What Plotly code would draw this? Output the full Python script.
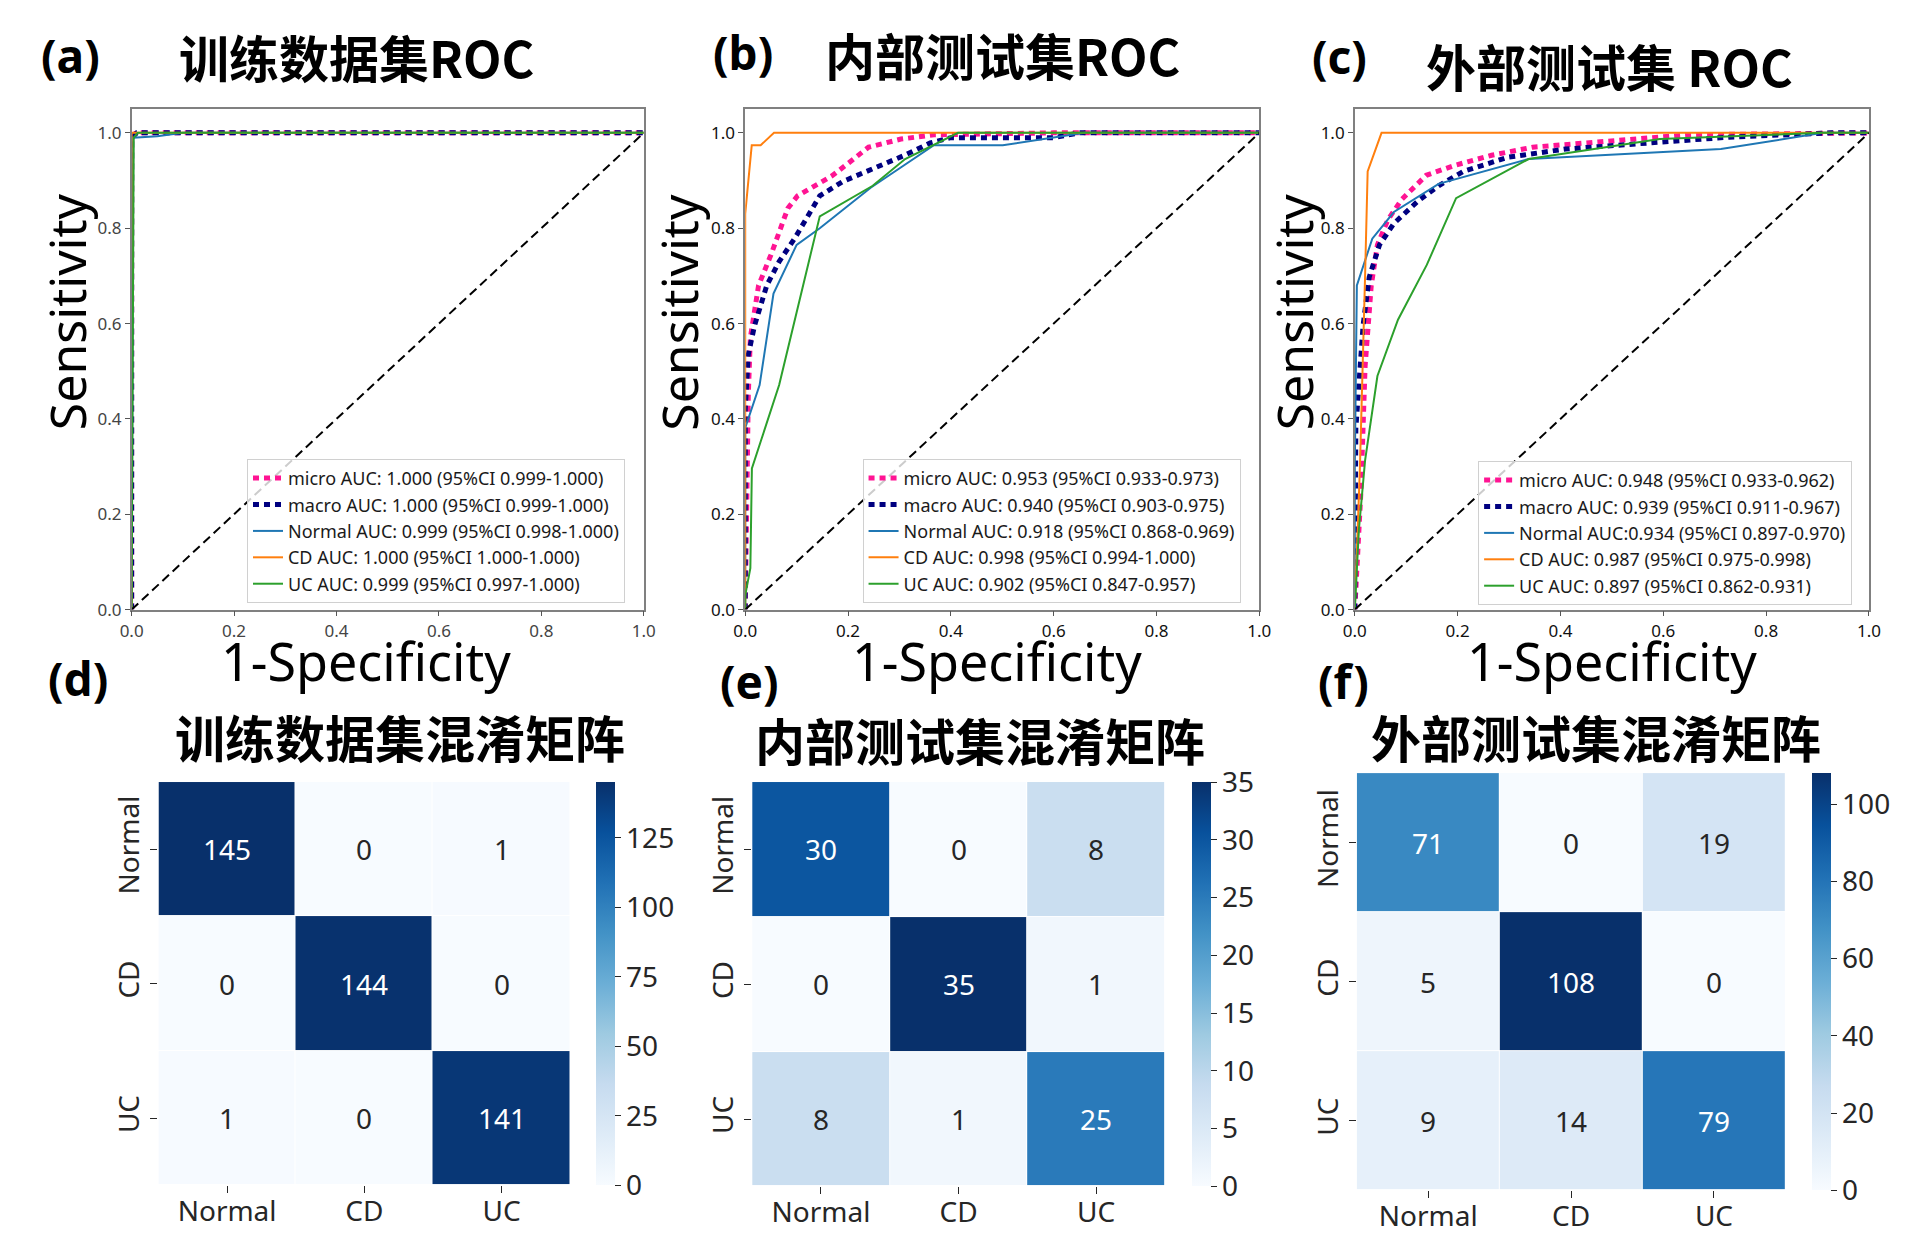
import plotly.graph_objects as go

W, H = 1924, 1246

# ---------------- ROC data ----------------
# (a) training set
TRAIN_MICRO_X = [0.0, 0.0, 0.01, 1.0]
TRAIN_MICRO_Y = [0.0, 0.995, 1.0, 1.0]
TRAIN_MACRO_X = [0.0, 0.0, 0.01, 1.0]
TRAIN_MACRO_Y = [0.0, 0.99, 1.0, 1.0]
TRAIN_NORMAL_X = [0.0, 0.003, 0.05, 0.1, 1.0]
TRAIN_NORMAL_Y = [0.0, 0.99, 0.993, 1.0, 1.0]
TRAIN_CD_X = [0.0, 0.0, 1.0]
TRAIN_CD_Y = [0.0, 1.0, 1.0]
TRAIN_UC_X = [0.0, 0.004, 0.012, 1.0]
TRAIN_UC_Y = [0.0, 0.99, 1.0, 1.0]

# (b) internal test set
INT_MICRO_X = [0.0, 0.002, 0.006, 0.01, 0.026, 0.05, 0.07, 0.083, 0.102, 0.137, 0.169, 0.2, 0.24, 0.303, 0.367, 0.6, 1.0]
INT_MICRO_Y = [0.0, 0.2, 0.45, 0.57, 0.68, 0.744, 0.80, 0.842, 0.868, 0.89, 0.91, 0.936, 0.97, 0.987, 0.996, 1.0, 1.0]
INT_MACRO_X = [0.0, 0.0, 0.006, 0.018, 0.042, 0.066, 0.097, 0.145, 0.19, 0.256, 0.31, 0.36, 0.4, 0.6, 0.65, 1.0]
INT_MACRO_Y = [0.0, 0.42, 0.535, 0.595, 0.68, 0.73, 0.78, 0.868, 0.898, 0.927, 0.953, 0.979, 0.99, 0.99, 1.0, 1.0]
INT_NORMAL_X = [0.0, 0.0, 0.028, 0.055, 0.1, 0.145, 0.244, 0.327, 0.367, 0.501, 0.66, 1.0]
INT_NORMAL_Y = [0.0, 0.381, 0.471, 0.663, 0.765, 0.80, 0.885, 0.945, 0.974, 0.974, 1.0, 1.0]
INT_CD_X = [0.0, 0.0, 0.0127, 0.03, 0.056, 1.0]
INT_CD_Y = [0.0, 0.83, 0.974, 0.974, 1.0, 1.0]
INT_UC_X = [0.0, 0.0, 0.01, 0.013, 0.066, 0.145, 0.248, 0.311, 0.414, 1.0]
INT_UC_Y = [0.0, 0.03, 0.087, 0.296, 0.471, 0.825, 0.889, 0.945, 1.0, 1.0]

# (c) external test set
EXT_MICRO_X = [0.0, 0.004, 0.012, 0.02, 0.032, 0.044, 0.064, 0.091, 0.139, 0.195, 0.266, 0.346, 0.489, 0.648, 1.0]
EXT_MICRO_Y = [0.0, 0.08, 0.25, 0.51, 0.68, 0.765, 0.817, 0.86, 0.911, 0.932, 0.953, 0.97, 0.983, 0.996, 1.0]
EXT_MACRO_X = [0.0, 0.0, 0.002, 0.016, 0.028, 0.048, 0.076, 0.123, 0.163, 0.211, 0.298, 0.41, 0.569, 0.728, 0.927, 1.0]
EXT_MACRO_Y = [0.0, 0.2, 0.38, 0.595, 0.697, 0.765, 0.81, 0.857, 0.889, 0.919, 0.949, 0.966, 0.979, 0.991, 1.0, 1.0]
EXT_NORMAL_X = [0.0, 0.0, 0.004, 0.034, 0.076, 0.163, 0.338, 0.712, 0.91, 1.0]
EXT_NORMAL_Y = [0.0, 0.3, 0.68, 0.778, 0.834, 0.893, 0.945, 0.966, 1.0, 1.0]
EXT_CD_X = [0.0, 0.01, 0.02, 0.025, 0.052, 1.0]
EXT_CD_Y = [0.0, 0.3, 0.7, 0.919, 1.0, 1.0]
EXT_UC_X = [0.0, 0.008, 0.02, 0.044, 0.084, 0.14, 0.197, 0.338, 0.593, 0.91, 1.0]
EXT_UC_Y = [0.0, 0.168, 0.313, 0.49, 0.608, 0.723, 0.863, 0.945, 0.987, 1.0, 1.0]

TRAIN_LABELS = ["micro AUC: 1.000 (95%CI 0.999-1.000)",
                "macro AUC: 1.000 (95%CI 0.999-1.000)",
                "Normal AUC: 0.999 (95%CI 0.998-1.000)",
                "CD AUC: 1.000 (95%CI 1.000-1.000)",
                "UC AUC: 0.999 (95%CI 0.997-1.000)"]
INT_LABELS = ["micro AUC: 0.953 (95%CI 0.933-0.973)",
              "macro AUC: 0.940 (95%CI 0.903-0.975)",
              "Normal AUC: 0.918 (95%CI 0.868-0.969)",
              "CD AUC: 0.998 (95%CI 0.994-1.000)",
              "UC AUC: 0.902 (95%CI 0.847-0.957)"]
EXT_LABELS = ["micro AUC: 0.948 (95%CI 0.933-0.962)",
              "macro AUC: 0.939 (95%CI 0.911-0.967)",
              "Normal AUC:0.934 (95%CI 0.897-0.970)",
              "CD AUC: 0.987 (95%CI 0.975-0.998)",
              "UC AUC: 0.897 (95%CI 0.862-0.931)"]

ROC_TITLES = ["训练数据集ROC", "内部测试集ROC", "外部测试集 ROC"]
CM_TITLES = ["训练数据集混淆矩阵", "内部测试集混淆矩阵", "外部测试集混淆矩阵"]
PANEL_TAGS = ["(a)", "(b)", "(c)", "(d)", "(e)", "(f)"]

# ---------------- confusion matrices ----------------
CLASSES = ["Normal", "CD", "UC"]
TRAIN_CM = [[145, 0, 1], [0, 144, 0], [1, 0, 141]]
INT_CM = [[30, 0, 8], [0, 35, 1], [8, 1, 25]]
EXT_CM = [[71, 0, 19], [5, 108, 0], [9, 14, 79]]
TRAIN_CB_TICKS = [0, 25, 50, 75, 100, 125]
INT_CB_TICKS = [0, 5, 10, 15, 20, 25, 30, 35]
EXT_CB_TICKS = [0, 20, 40, 60, 80, 100]

# ---------------- styles ----------------
LATIN = "Noto Sans, Open Sans, DejaVu Sans, sans-serif"
CJK = "Noto Sans CJK SC, sans-serif"
BLUES = ['#f7fbff', '#deebf7', '#c6dbef', '#9ecae1', '#6baed6',
         '#4292c6', '#2171b5', '#08519c', '#08306b']
CURVE_STYLES = [
    dict(color='deeppink', width=5, dash='6px,5px'),
    dict(color='navy', width=5, dash='6px,5px'),
    dict(color='#1f77b4', width=2),
    dict(color='#ff7f0e', width=2),
    dict(color='#2ca02c', width=2),
]

XS = 1.007  # slight horizontal spread about the page centre


def px2x(p):
    return (962 + (p - 962) * XS) / W


def px2y(p):
    return 1 - p / H


def hex2rgb(h):
    h = h.lstrip('#')
    return [int(h[i:i + 2], 16) / 255 for i in (0, 2, 4)]


def blues_at(frac):
    frac = min(max(frac, 0), 1)
    pos = frac * (len(BLUES) - 1)
    i = min(int(pos), len(BLUES) - 2)
    t = pos - i
    a, b = hex2rgb(BLUES[i]), hex2rgb(BLUES[i + 1])
    return [a[k] + (b[k] - a[k]) * t for k in range(3)]


def rel_lum(rgb):
    lin = [c / 12.92 if c <= 0.03928 else ((c + 0.055) / 1.055) ** 2.4 for c in rgb]
    return 0.2126 * lin[0] + 0.7152 * lin[1] + 0.0722 * lin[2]


fig = go.Figure()

roc_sets = [
    [(TRAIN_MICRO_X, TRAIN_MICRO_Y), (TRAIN_MACRO_X, TRAIN_MACRO_Y), (TRAIN_NORMAL_X, TRAIN_NORMAL_Y),
     (TRAIN_CD_X, TRAIN_CD_Y), (TRAIN_UC_X, TRAIN_UC_Y)],
    [(INT_MICRO_X, INT_MICRO_Y), (INT_MACRO_X, INT_MACRO_Y), (INT_NORMAL_X, INT_NORMAL_Y),
     (INT_CD_X, INT_CD_Y), (INT_UC_X, INT_UC_Y)],
    [(EXT_MICRO_X, EXT_MICRO_Y), (EXT_MACRO_X, EXT_MACRO_Y), (EXT_NORMAL_X, EXT_NORMAL_Y),
     (EXT_CD_X, EXT_CD_Y), (EXT_UC_X, EXT_UC_Y)],
]
roc_labels = [TRAIN_LABELS, INT_LABELS, EXT_LABELS]

# layout geometry (pixels in the 1924x1246 picture)
ROC_X = [(127, 642), (744, 1261), (1357, 1874)]
ROC_Y = (110, 615)
ROC_TICK_COLOR = ['#444', '#111', '#111']
LEG_POS = [(243, 463), (862, 463), (1481, 465)]
SENS_X = [62, 678, 1296]
SPEC_X = [363, 997, 1616]
SPEC_Y = 666
TAG_POS = [(66, 55), (742, 52), (1342, 56), (73, 684), (748, 687), (1346, 687)]
TITLE_POS = [(353, 56), (1003, 54), (1613, 66)]
CM_X = [(154, 568), (751, 1166), (1359, 1790)]
CM_Y = [(789, 1196), (789, 1197), (780, 1201)]
CB_X = [594, 1193, 1817]
CM_TITLE_POS = [(397, 743), (980, 746), (1600, 743)]

annotations = []
layout_axes = {}

for p in range(3):
    sfx = '' if p == 0 else str(p + 1)
    xa, ya = 'x' + sfx, 'y' + sfx
    legname = 'legend' + sfx
    for (xs, ys), lab, st in zip(roc_sets[p], roc_labels[p], CURVE_STYLES):
        fig.add_trace(go.Scatter(x=xs, y=ys, mode='lines', name=lab, line=st,
                                 xaxis=xa, yaxis=ya, legend=legname, hoverinfo='skip'))
    fig.add_trace(go.Scatter(x=[0, 1], y=[0, 1], mode='lines', showlegend=False,
                             line=dict(color='black', width=2, dash='9px,5px'),
                             xaxis=xa, yaxis=ya, hoverinfo='skip'))
    x0, x1 = ROC_X[p]
    common = dict(showgrid=False, zeroline=False, showline=True, mirror=True,
                  linecolor='#808080', linewidth=1.5, ticks='outside', ticklen=5,
                  tickcolor='#555', tickfont=dict(size=17, color=ROC_TICK_COLOR[p], family=LATIN),
                  tickformat='.1f')
    layout_axes['xaxis' + sfx] = dict(domain=[px2x(x0), px2x(x1)], range=[0, 1],
                                      tickvals=[0, 0.2, 0.4, 0.6, 0.8, 1.0], anchor=ya, **common)
    layout_axes['yaxis' + sfx] = dict(domain=[px2y(ROC_Y[1]), px2y(ROC_Y[0])], range=[0, 1.05],
                                      tickvals=[0, 0.2, 0.4, 0.6, 0.8, 1.0], anchor=xa, **common)
    lx, ly = LEG_POS[p]
    layout_axes[legname] = dict(x=px2x(lx), y=px2y(ly), xanchor='left', yanchor='top',
                                bgcolor='rgba(255,255,255,0.8)', bordercolor='#d0d0d0', borderwidth=1,
                                font=dict(size=18, family=LATIN, color='#1a1a1a'),
                                tracegroupgap=0, traceorder='normal')
    annotations.append(dict(text='Sensitivity', x=px2x(SENS_X[p]), y=px2y(315), xref='paper', yref='paper',
                            textangle=-90, showarrow=False, xanchor='center', yanchor='middle',
                            font=dict(size=50, family=LATIN, color='black')))
    annotations.append(dict(text='1-Specificity', x=px2x(SPEC_X[p]), y=px2y(SPEC_Y), xref='paper', yref='paper',
                            showarrow=False, xanchor='center', yanchor='middle',
                            font=dict(size=52, family=LATIN, color='black')))
    tx, ty = TITLE_POS[p]
    annotations.append(dict(text=ROC_TITLES[p], x=px2x(tx), y=px2y(ty), xref='paper', yref='paper',
                            showarrow=False, xanchor='center', yanchor='middle',
                            font=dict(size=50, family=CJK, color='black', weight='bold')))

cms = [TRAIN_CM, INT_CM, EXT_CM]
cb_ticks = [TRAIN_CB_TICKS, INT_CB_TICKS, EXT_CB_TICKS]
colorscale = [[i / (len(BLUES) - 1), c] for i, c in enumerate(BLUES)]

for p in range(3):
    n = p + 4
    xa, ya = 'x' + str(n), 'y' + str(n)
    cm = cms[p]
    zmax = max(max(r) for r in cm)
    y0, y1 = CM_Y[p]
    fig.add_trace(go.Heatmap(z=cm, x=CLASSES, y=CLASSES, xaxis=xa, yaxis=ya,
                             colorscale=colorscale, zmin=0, zmax=zmax, xgap=1, ygap=1,
                             hoverinfo='skip',
                             colorbar=dict(x=px2x(CB_X[p]), xanchor='left', xref='paper',
                                           y=px2y((y0 + y1) / 2), yanchor='middle', yref='paper',
                                           len=(y1 - y0) / H, lenmode='fraction',
                                           thickness=19, thicknessmode='pixels', xpad=0, ypad=0,
                                           outlinewidth=0, tickvals=cb_ticks[p], ticks='outside',
                                           ticklen=6, tickcolor='#262626', tickwidth=1.2,
                                           tickfont=dict(size=28, family=LATIN, color='#262626'))))
    for i, row in enumerate(cm):
        for j, v in enumerate(row):
            lum = rel_lum(blues_at(v / zmax))
            col = '#262626' if lum > 0.408 else 'white'
            annotations.append(dict(text=str(v), x=CLASSES[j], y=CLASSES[i], xref=xa, yref=ya,
                                    showarrow=False, font=dict(size=28, family=LATIN, color=col)))
    x0, x1 = CM_X[p]
    hcommon = dict(showgrid=False, zeroline=False, showline=False, ticks='outside', ticklen=7,
                   tickcolor='#262626', tickwidth=1.2,
                   tickfont=dict(size=28, family=LATIN, color='#262626'))
    layout_axes['xaxis' + str(n)] = dict(domain=[px2x(x0), px2x(x1)], anchor=ya,
                                         ticklabelstandoff=-6, **hcommon)
    layout_axes['yaxis' + str(n)] = dict(domain=[px2y(y1), px2y(y0)], anchor=xa, autorange='reversed',
                                         tickangle=-90, **hcommon)
    tx, ty = CM_TITLE_POS[p]
    annotations.append(dict(text=CM_TITLES[p], x=px2x(tx), y=px2y(ty), xref='paper', yref='paper',
                            showarrow=False, xanchor='center', yanchor='middle',
                            font=dict(size=50, family=CJK, color='black', weight='bold')))

for tag, (tx, ty) in zip(PANEL_TAGS, TAG_POS):
    annotations.append(dict(text=tag, x=px2x(tx), y=px2y(ty), xref='paper', yref='paper',
                            showarrow=False, xanchor='center', yanchor='middle',
                            font=dict(size=46, family=LATIN, color='black', weight='bold')))

fig.update_layout(width=W, height=H, margin=dict(l=0, r=0, t=0, b=0),
                  paper_bgcolor='white', plot_bgcolor='white',
                  annotations=annotations, **layout_axes)

fig.write_html("out.html", config={'displayModeBar': False},
               post_script="document.body.style.margin='0px';")
